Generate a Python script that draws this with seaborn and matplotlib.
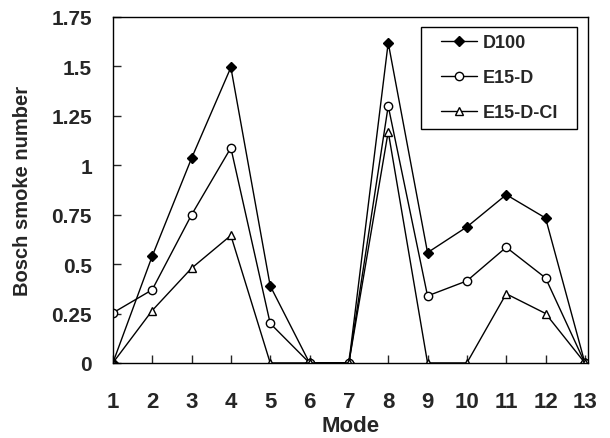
import numpy as np
import pandas as pd
import seaborn as sns
import matplotlib
matplotlib.use("Agg")
import matplotlib.pyplot as plt
from matplotlib.lines import Line2D
from matplotlib.legend_handler import HandlerLine2D

# values
modes = list(range(1, 14))
d100 = [0, 0.54, 1.035, 1.495, 0.39, 0, 0, 1.62, 0.558, 0.688, 0.851, 0.733, 0]
e15_d = [0.253, 0.37, 0.749, 1.088, 0.20, 0, 0, 1.30, 0.339, 0.415, 0.585, 0.43, 0]
e15_d_ci = [0, 0.265, 0.479, 0.645, 0, 0, 0, 1.17, 0, 0, 0.35, 0.25, 0]
y_ticks = [0, 0.25, 0.5, 0.75, 1, 1.25, 1.5, 1.75]
y_labels = ["0", "0.25", "0.5", "0.75", "1", "1.25", "1.5", "1.75"]

sns.set_style("ticks")
plt.rcParams['font.family'] = ['Liberation Sans', 'DejaVu Sans']
plt.rcParams['font.weight'] = 'bold'

fig, ax = plt.subplots(figsize=(6.1, 4.39), dpi=100)
fig.subplots_adjust(left=0.185, right=0.964, bottom=0.171, top=0.959)

series = [("D100", d100, "D", "black"),
          ("E15-D", e15_d, "o", "white"),
          ("E15-D-CI", e15_d_ci, "^", "white")]
for name, vals, mk, fc in series:
    sns.lineplot(x=modes, y=vals, ax=ax, color="black", linewidth=1,
                 marker=mk, markersize=6 if mk != "D" else 5,
                 markerfacecolor=fc, markeredgecolor="black",
                 markeredgewidth=1, label=name)

ax.set_xlim(1, 13.08)
ax.set_ylim(0, 1.75)
ax.tick_params(axis="x", direction="in", length=6, width=1, pad=20)
ax.tick_params(axis="y", direction="in", length=6, width=1, pad=15)
ax.set_xticks(modes)
ax.set_xticklabels([str(m) for m in modes])
ax.set_yticks(y_ticks)
ax.set_yticklabels(y_labels)
for t in ax.get_xticklabels():
    t.set_fontsize(16)
    t.set_fontweight("bold")
for t in ax.get_yticklabels():
    t.set_fontsize(15)
    t.set_fontweight("bold")
for sp in ax.spines.values():
    sp.set_linewidth(1)
    sp.set_color("black")

ax.set_xlabel("Mode", fontsize=16, fontweight="bold", va="center")
ax.xaxis.set_label_coords(0.5, -0.182)
ax.set_ylabel("Bosch smoke number", fontsize=14.5, fontweight="bold", va="center")
ax.yaxis.set_label_coords(-0.19, 0.5)

leg = ax.legend(loc="upper right", bbox_to_anchor=(0.648, 0.5, 0.328, 0.471),
                mode="expand", frameon=True,
                fancybox=False, edgecolor="black", framealpha=1,
                prop={"size": 13, "weight": "bold"}, handlelength=2.71,
                borderpad=0.4, labelspacing=1.0, handletextpad=0.3,
                borderaxespad=0.0,
                handler_map={Line2D: HandlerLine2D(xpad=0.71)})
leg.get_frame().set_linewidth(1)

fig.savefig("out.png", dpi=100)
